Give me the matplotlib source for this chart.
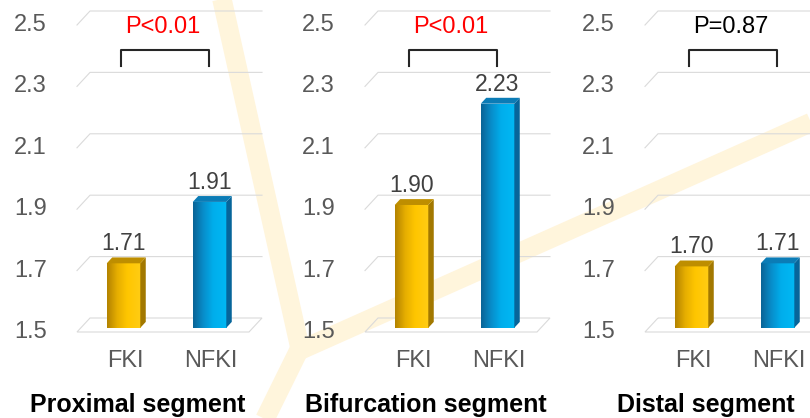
import numpy as np
import matplotlib.pyplot as plt
from matplotlib.patches import Polygon, Rectangle
from matplotlib.colors import LinearSegmentedColormap

plt.rcParams['font.family'] = ['Liberation Sans', 'DejaVu Sans']

groups = ['FKI', 'NFKI']
segments = ['Proximal segment', 'Bifurcation segment', 'Distal segment']
proximal = [1.71, 1.91]
bifurcation = [1.90, 2.23]
distal = [1.70, 1.71]
p_labels = ['P<0.01', 'P<0.01', 'P=0.87']
yticks = [1.5, 1.7, 1.9, 2.1, 2.3, 2.5]

W, H = 810, 418
fig = plt.figure(figsize=(W / 100, H / 100), dpi=100)

# pale bifurcation "Y" behind everything
bg = fig.add_axes([0, 0, 1, 1], zorder=0)
bg.set_xlim(0, W)
bg.set_ylim(H, 0)
bg.axis('off')
wm = dict(color='#FFF5DC', lw=14, solid_capstyle='butt', solid_joinstyle='round')
bg.plot([221, 300], [-5, 348], **wm)
bg.plot([300, 262], [348, 425], **wm)
bg.plot([296, 830], [352, 114], **wm)

gold = LinearSegmentedColormap.from_list(
    'gold', [(0, '#B38300'), (0.3, '#E6AE00'), (0.6, '#FFC600'), (1, '#FFCC14')])
blue = LinearSegmentedColormap.from_list(
    'blue', [(0, '#0A6496'), (0.3, '#088DCA'), (0.6, '#00AEEC'), (1, '#00B8F4')])
face_maps = [gold, blue]
side_cols = ['#A27800', '#07659A']
top_cols = ['#BE8E00', '#0B7CB6']

dx, dy = 13 / 86, 14 / 307        # depth of the 3-D box in data units
f_front, f_side = 0.7, 0.42       # where the bar sits inside the box
w = 0.39
x_lo, x_hi = -0.541, 1.61
y_lo, y_hi = 1.4283, 2.5358
xb0 = x_lo + dx

lefts = [77, 365, 645]
ax_h = 340
for k, (seg, vals) in enumerate(zip(segments, [proximal, bifurcation, distal])):
    ax = fig.add_axes([lefts[k] / W, (H - ax_h) / H, 185 / W, ax_h / H], zorder=1)
    ax.patch.set_visible(False)

    # grid: left wall diagonals + back lines, floor as parallelogram
    for t in yticks[1:]:
        ax.plot([xb0 - dx, xb0, x_hi], [t - dy, t, t], color='#DADADA', lw=0.8,
                zorder=1, clip_on=False)
    ax.add_patch(Polygon([(xb0, 1.5), (x_hi, 1.5), (x_hi - dx, 1.5 - dy),
                          (xb0 - dx, 1.5 - dy)], closed=True, fill=False,
                         edgecolor='#DADADA', lw=0.8, zorder=1, clip_on=False))

    for t in yticks:
        ax.text(x_lo - 30 / 86, t - dy, f'{t:.1f}', ha='right', va='center',
                fontsize=17, color='#595959')

    for i, v in enumerate(vals):
        bot = 1.5 - f_front * dy
        top = v - f_front * dy
        x0, x1 = i - w / 2, i + w / 2
        sx, sy = f_side * dx, f_side * dy
        rect = Rectangle((x0, bot), w, top - bot, facecolor='none', edgecolor='none')
        ax.add_patch(rect)
        im = ax.imshow(np.linspace(0, 1, 64).reshape(1, -1), cmap=face_maps[i],
                       extent=[x0, x1, bot, top], aspect='auto', zorder=3,
                       interpolation='bilinear')
        im.set_clip_path(rect)
        ax.add_patch(Polygon([(x1, bot), (x1, top), (x1 + sx, top + sy),
                              (x1 + sx, bot + sy)], closed=True,
                             facecolor=side_cols[i], edgecolor='none', zorder=3))
        ax.add_patch(Polygon([(x0, top), (x1, top), (x1 + sx, top + sy),
                              (x0 + sx, top + sy)], closed=True,
                             facecolor=top_cols[i], edgecolor='none', zorder=3))
        ax.text(i, v + 0.011, f'{v:.2f}', ha='center', va='baseline', fontsize=16.5,
                color='#404040', zorder=4)

    # significance bracket
    bx0, bx1 = -0.03, 0.99
    ax.plot([bx0, bx0, bx1, bx1], [2.321, 2.373, 2.373, 2.321], color='#262626',
            lw=1.5, zorder=4, clip_on=False)
    ax.text(0.46, 2.448, p_labels[k], ha='center', va='center', fontsize=17,
            color='red' if p_labels[k].startswith('P<') else 'black')

    ax.set_xlim(x_lo, x_hi)
    ax.set_ylim(y_lo, y_hi)
    ax.set_xticks([0.02, 1.02], groups)
    ax.set_yticks([])
    ax.tick_params(axis='x', length=0, pad=7, labelsize=17, labelcolor='#595959')
    for s in ax.spines.values():
        s.set_visible(False)

    ax.text(61 / 185, (ax_h - 405) / ax_h, seg, transform=ax.transAxes,
            ha='center', va='center', fontsize=18, fontweight='bold')

fig.savefig('out.png', dpi=100)
